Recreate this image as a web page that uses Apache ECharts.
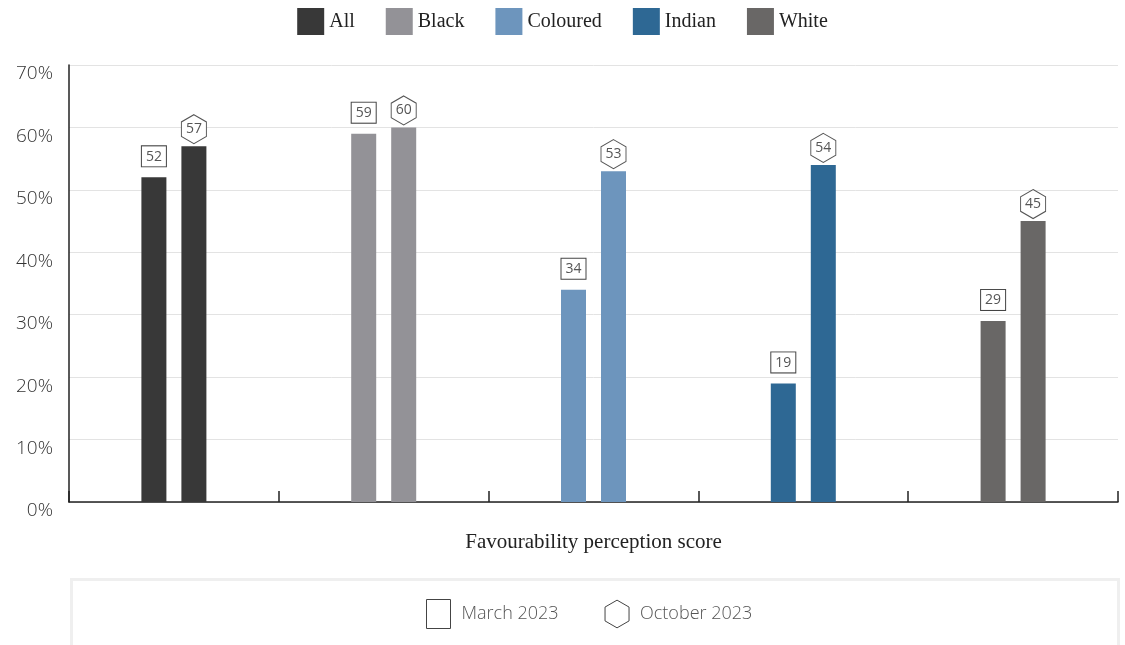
<!DOCTYPE html>
<html><head><meta charset="utf-8">
<script src="https://cdn.jsdelivr.net/npm/echarts@6/dist/echarts.min.js"></script>
<style>html,body{margin:0;padding:0;background:#fff}#c{width:1125px;height:645px}</style>
</head><body><div id="c"></div>
<script>
const groups = ['All', 'Black', 'Coloured', 'Indian', 'White'];
const groupColors = ['#383838', '#939297', '#6d95bd', '#2e6894', '#696766'];
const march2023 = [52, 59, 34, 19, 29];
const october2023 = [57, 60, 53, 54, 45];
const yTicks = [0, 10, 20, 30, 40, 50, 60, 70];
const periods = ['March 2023', 'October 2023'];
const xAxisTitle = 'Favourability perception score';

const hexPath = 'path://M50,0 L100,28.87 L100,86.6 L50,115.47 L0,86.6 L0,28.87 Z';
const sans = '"Open Sans", sans-serif';
const serif = '"Liberation Serif", "DejaVu Serif", serif';

const chart = echarts.init(document.getElementById('c'), null, {renderer: 'canvas'});

const legendSeries = groups.map((g, i) => ({
  name: g, type: 'line', data: [], itemStyle: {color: groupColors[i]}, lineStyle: {color: groupColors[i]}
}));

chart.setOption({
  animation: false,
  backgroundColor: '#fff',
  grid: {left: 69, right: 7, top: 65, bottom: 143, containLabel: false},
  legend: [{
    data: groups.map(g => ({name: g, icon: 'rect'})),
    top: 3, left: 'center', itemWidth: 27, itemHeight: 27, itemGap: 31,
    textStyle: {fontFamily: serif, fontSize: 20, color: '#222'},
    selectedMode: false
  }, {
    data: [
      {name: periods[0], icon: 'rect', itemStyle: {color: '#fff', borderColor: '#444', borderWidth: 1}},
      {name: periods[1], icon: hexPath, itemStyle: {color: '#fff', borderColor: '#444', borderWidth: 1}}
    ],
    top: 594, left: 421, itemWidth: 24, itemHeight: 29, itemGap: 46,
    textStyle: {fontFamily: sans, fontSize: 18, fontWeight: 300, color: '#555', padding: [0, 0, 0, 6]},
    selectedMode: false
  }],
  graphic: [{
    type: 'rect', left: 70, top: 578, z: -1,
    shape: {width: 1047, height: 90},
    style: {fill: '#fff', stroke: '#efefef', lineWidth: 3}
  }],
  xAxis: {
    type: 'category', data: groups,
    name: xAxisTitle, nameLocation: 'middle', nameGap: 30,
    nameTextStyle: {fontFamily: serif, fontSize: 21, color: '#222'},
    axisLine: {lineStyle: {color: '#222', width: 1.5}},
    axisTick: {show: true, inside: true, length: 11, alignWithLabel: false, lineStyle: {color: '#222', width: 1.5}},
    axisLabel: {show: false}
  },
  yAxis: {
    type: 'value', min: 0, max: 70, interval: 10,
    axisLine: {show: true, lineStyle: {color: '#222', width: 1.5}},
    axisTick: {show: false},
    splitLine: {lineStyle: {color: '#e3e3e3', width: 1}},
    axisLabel: {
      formatter: v => yTicks.includes(v) ? v + '%' : '',
      fontFamily: sans, fontSize: 19, fontWeight: 300, color: '#333', margin: 16,
      verticalAlign: 'top', lineHeight: 18
    }
  },
  series: [
    {
      name: periods[0], type: 'bar', barWidth: 25, barGap: '60%',
      data: march2023.map((v, i) => ({value: v, itemStyle: {color: groupColors[i]}})),
      label: {
        show: true, position: 'top', distance: 11,
        fontFamily: sans, fontSize: 14, color: '#555',
        backgroundColor: '#fff', borderColor: '#444', borderWidth: 1,
        width: 24, align: 'center', lineHeight: 15, padding: [3, 0, 2, 0]
      }
    },
    {
      name: periods[1], type: 'bar', barWidth: 25, barGap: '60%',
      data: october2023.map((v, i) => ({value: v, itemStyle: {color: groupColors[i]}})),
      markPoint: {
        symbol: hexPath, symbolSize: [25, 29], symbolOffset: [0, -17],
        itemStyle: {color: '#fff', borderColor: '#555', borderWidth: 1},
        label: {show: true, position: 'inside', fontFamily: sans, fontSize: 14, color: '#555'},
        data: october2023.map((v, i) => ({coord: [i, v], value: v}))
      }
    },
    ...legendSeries
  ]
});
</script></body></html>
